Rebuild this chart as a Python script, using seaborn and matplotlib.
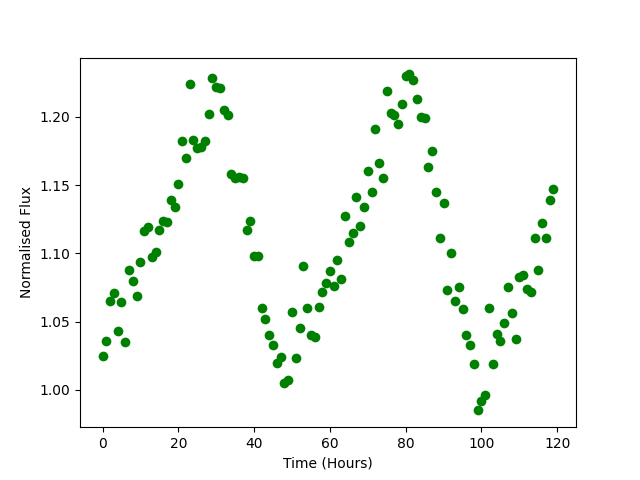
import matplotlib
matplotlib.use("Agg")
from matplotlib import pyplot as plt
import numpy as np
import pandas as pd
import seaborn as sns

# hourly samples, 0..119
hours = list(range(120))

flux = [
    1.025, 1.036, 1.065, 1.071, 1.043, 1.064, 1.035, 1.088, 1.080, 1.069,
    1.094, 1.116, 1.119, 1.097, 1.101, 1.117, 1.124, 1.123, 1.139, 1.134,
    1.151, 1.182, 1.170, 1.224, 1.183, 1.177, 1.178, 1.182, 1.202, 1.228,
    1.222, 1.221, 1.205, 1.201, 1.158, 1.155, 1.156, 1.155, 1.117, 1.124,
    1.098, 1.098, 1.060, 1.052, 1.040, 1.033, 1.020, 1.024, 1.005, 1.007,
    1.057, 1.023, 1.045, 1.091, 1.060, 1.040, 1.039, 1.061, 1.072, 1.078,
    1.087, 1.076, 1.095, 1.081, 1.127, 1.108, 1.115, 1.141, 1.120, 1.134,
    1.160, 1.145, 1.191, 1.166, 1.155, 1.219, 1.203, 1.201, 1.195, 1.209,
    1.230, 1.231, 1.227, 1.213, 1.200, 1.199, 1.163, 1.175, 1.145, 1.111,
    1.137, 1.073, 1.100, 1.065, 1.075, 1.059, 1.040, 1.033, 1.019, 0.985,
    0.992, 0.996, 1.060, 1.019, 1.041, 1.036, 1.049, 1.075, 1.056, 1.037,
    1.083, 1.084, 1.074, 1.072, 1.111, 1.088, 1.122, 1.111, 1.139, 1.147,
]

df = pd.DataFrame({"hours": hours, "flux": flux})

fig, ax = plt.subplots(figsize=(6.4, 4.8), dpi=100)
sns.scatterplot(data=df, x="hours", y="flux", color="green", s=49,
                linewidth=0, ax=ax)
ax.set_xlabel("Time (Hours)")
ax.set_ylabel("Normalised Flux")

fig.savefig("out.png", dpi=100)
